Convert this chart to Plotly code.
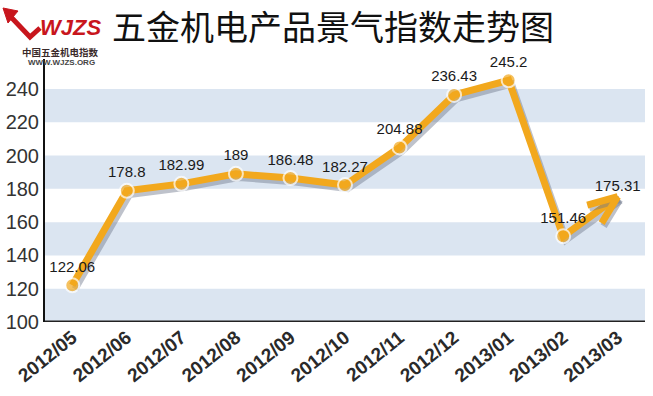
import plotly.graph_objects as go

months = ["2012/05", "2012/06", "2012/07", "2012/08", "2012/09", "2012/10",
          "2012/11", "2012/12", "2013/01", "2013/02", "2013/03"]
values = [122.06, 178.8, 182.99, 189, 186.48, 182.27, 204.88, 236.43, 245.2, 151.46, 175.31]
labels = ["122.06", "178.8", "182.99", "189", "186.48", "182.27", "204.88", "236.43", "245.2", "151.46", "175.31"]
y_ticks = [100, 120, 140, 160, 180, 200, 220, 240]
bands = [(100, 120), (140, 160), (180, 200), (220, 240)]

ORANGE = "#f2a81d"
SHADOW = "rgba(110,120,140,0.45)"
xs = list(range(len(months)))

fig = go.Figure()

# shadow of the line
fig.add_trace(go.Scatter(
    x=[x + 0.05 for x in xs], y=[v - 2.2 for v in values], mode="lines",
    line=dict(color=SHADOW, width=7),
    hoverinfo="skip", showlegend=False))

n = len(values)
sizes = [14] * (n - 1) + [2]
lw = [2] * (n - 1) + [0]

fig.add_trace(go.Scatter(
    x=xs, y=values, mode="lines+markers+text",
    line=dict(color=ORANGE, width=7),
    marker=dict(symbol="circle", size=sizes, color=ORANGE,
                line=dict(color="white", width=lw)),
    text=labels, textposition="top center",
    textfont=dict(family="Arial, Liberation Sans, sans-serif", size=15, color="#1a1a1a"),
    showlegend=False, cliponaxis=False))

shapes = []
for lo, hi in bands:
    shapes.append(dict(type="rect", xref="paper", yref="y", x0=0, x1=1, y0=lo, y1=hi,
                       fillcolor="#dbe5f1", line=dict(width=0), layer="below"))

# helpers: reference pixel -> paper coordinates (plot area 45..645 x 59..322)
def px(x):
    return (x - 45) / 600
def py(y):
    return (322 - y) / 263

# logo arrow stroke
shapes.append(dict(type="path", xref="paper", yref="paper",
                   path=f"M {px(10)},{py(16)} L {px(30)},{py(37)} L {px(40)},{py(28)}",
                   line=dict(color="#c8161d", width=5)))
shapes.append(dict(type="path", xref="paper", yref="paper",
                   path=f"M {px(3)},{py(8)} L {px(18)},{py(11)} L {px(8)},{py(23)} Z",
                   fillcolor="#c8161d", line=dict(color="#c8161d", width=1)))

annotations = [
    dict(text="五金机电产品景气指数走势图", xref="paper", yref="paper",
         x=px(111), y=py(25.5), xanchor="left", yanchor="middle", showarrow=False,
         borderpad=0,
         font=dict(family="Noto Sans CJK SC", size=34, color="#111111")),
    dict(text="<b><i>WJZS</i></b>", xref="paper", yref="paper",
         x=px(70), y=py(28), xanchor="center", yanchor="middle", showarrow=False,
         font=dict(family="Arial, Liberation Sans, sans-serif", size=22, color="#c8161d")),
    dict(text="<b>中国五金机电指数</b>", xref="paper", yref="paper",
         x=px(60), y=py(52), xanchor="center", yanchor="middle", showarrow=False,
         font=dict(family="Noto Sans CJK SC", size=9.5, color="#3a2a2a")),
    dict(text="<b>WWW.WJZS.ORG</b>", xref="paper", yref="paper",
         x=px(61), y=py(62), xanchor="center", yanchor="middle", showarrow=False,
         font=dict(family="Arial, Liberation Sans, sans-serif", size=8, color="#444444")),
]

# chevron arrow head at the last data point (shadow first, then orange)
for color, xsh, ysh in [(SHADOW, 2, -3), (ORANGE, 0, 0)]:
    for axo, ayo in [(-32, 9), (-17, 28)]:
        annotations.append(dict(
            x=xs[-1], y=values[-1], xref="x", yref="y", ax=axo, ay=ayo,
            text="", showarrow=True, arrowhead=0, arrowwidth=7, arrowcolor=color,
            standoff=0, startstandoff=0, xshift=xsh, yshift=ysh))

fig.update_layout(
    width=653, height=396,
    margin=dict(l=45, r=8, t=59, b=74, autoexpand=False),
    paper_bgcolor="white", plot_bgcolor="white",
    shapes=shapes, annotations=annotations,
    xaxis=dict(range=[-0.5, 10.5], tickmode="array", tickvals=xs,
               ticktext=[f"<b>{m}</b>" for m in months],
               tickangle=-39, showgrid=False, zeroline=False, automargin=False,
               showline=False, ticks="",
               tickfont=dict(family="Arial, Liberation Sans, sans-serif", size=19, color="#2a2a2a"),
               fixedrange=True),
    yaxis=dict(range=[100, 258], tickmode="array", tickvals=y_ticks, automargin=False,
               showgrid=False, zeroline=False, showline=True, linecolor="#111111",
               linewidth=2, ticks="",
               tickfont=dict(family="Arial, Liberation Sans, sans-serif", size=20, color="#333333"),
               fixedrange=True),
)
# bottom axis line
fig.add_shape(type="line", xref="paper", yref="y", x0=0, x1=1, y0=100, y1=100,
              line=dict(color="#222222", width=3))

fig.write_html("out.html", config={"displayModeBar": False},
               post_script="document.body.style.margin='0';document.body.style.overflow='hidden';")
